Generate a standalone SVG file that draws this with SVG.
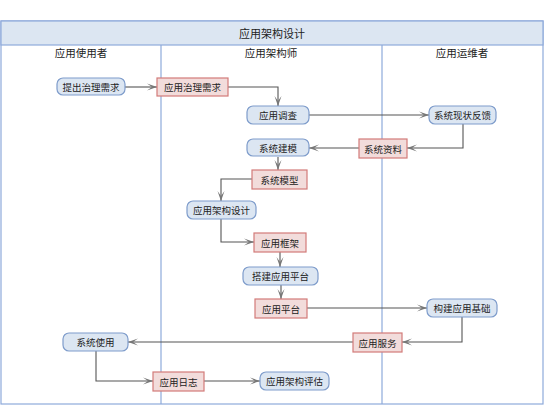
<svg xmlns="http://www.w3.org/2000/svg" width="554" height="416" viewBox="0 0 554 416">
<style>
text{font-family:"Noto Sans CJK SC","Noto Sans",sans-serif;fill:#222;text-anchor:middle;dominant-baseline:central}
.t{font-size:11px}
.h{font-size:10.5px}
.n{font-size:9.5px}
.b{fill:#dce6f2;stroke:#7e9ccb;stroke-width:1.2}
.p{fill:#f2dcdb;stroke:#d27b79;stroke-width:1.2}
.lane{fill:none;stroke:#8eaadb;stroke-width:1.2}
.c{fill:none;stroke:#555;stroke-width:1.1}
</style>
<defs>
<marker id="ah" viewBox="0 0 10 8" refX="10" refY="4" markerWidth="10" markerHeight="8" markerUnits="userSpaceOnUse" orient="auto">
<path d="M0,0.5 L10,4 L0,7.5 L5,4 z" fill="#777"/>
</marker>
</defs>
<g id="pool">
<rect x="1" y="21" width="542" height="383" class="lane" fill="#fff"/>
<rect x="1" y="21" width="542" height="24" fill="#dce6f2" stroke="#8eaadb" stroke-width="1.2"/>
<line x1="161" y1="45" x2="161" y2="404" class="lane"/>
<line x1="382" y1="45" x2="382" y2="404" class="lane"/>
<text class="t" x="272" y="33">应用架构设计</text>
<text class="h" x="81" y="52">应用使用者</text>
<text class="h" x="271" y="52">应用架构师</text>
<text class="h" x="462" y="52">应用运维者</text>
</g>
<g id="connectors">
<path class="c" d="M125,87 H157" marker-end="url(#ah)"/>
<path class="c" d="M228,87 H278 V106" marker-end="url(#ah)"/>
<path class="c" d="M309,115 H429" marker-end="url(#ah)"/>
<path class="c" d="M463,124 V148 H407" marker-end="url(#ah)"/>
<path class="c" d="M359,148 H309" marker-end="url(#ah)"/>
<path class="c" d="M278,157 V170" marker-end="url(#ah)"/>
<path class="c" d="M252,179 H221 V201" marker-end="url(#ah)"/>
<path class="c" d="M221,219 V242 H254" marker-end="url(#ah)"/>
<path class="c" d="M280,252 V267" marker-end="url(#ah)"/>
<path class="c" d="M281,285 V299" marker-end="url(#ah)"/>
<path class="c" d="M307,308 H427" marker-end="url(#ah)"/>
<path class="c" d="M462,317 V342 H402" marker-end="url(#ah)"/>
<path class="c" d="M353,342 H128" marker-end="url(#ah)"/>
<path class="c" d="M96,351 V381 H153" marker-end="url(#ah)"/>
<path class="c" d="M204,381 H260" marker-end="url(#ah)"/>
</g>
<g id="n1"><rect class="b" x="57" y="78" width="68" height="17" rx="6"/><text class="n" x="91" y="86.5">提出治理需求</text></g>
<g id="n2"><rect class="p" x="157" y="78" width="71" height="18"/><text class="n" x="192.5" y="87">应用治理需求</text></g>
<g id="n3"><rect class="b" x="247" y="106" width="62" height="18" rx="6"/><text class="n" x="278" y="115">应用调查</text></g>
<g id="n4"><rect class="b" x="429" y="106" width="67" height="18" rx="6"/><text class="n" x="462.5" y="115">系统现状反馈</text></g>
<g id="n5"><rect class="p" x="359" y="139" width="48" height="19"/><text class="n" x="383" y="148.5">系统资料</text></g>
<g id="n6"><rect class="b" x="247" y="139" width="62" height="17" rx="6"/><text class="n" x="278" y="147.5">系统建模</text></g>
<g id="n7"><rect class="p" x="252" y="170" width="55" height="19"/><text class="n" x="279.5" y="179.5">系统模型</text></g>
<g id="n8"><rect class="b" x="187" y="201" width="69" height="18" rx="6"/><text class="n" x="221.5" y="210">应用架构设计</text></g>
<g id="n9"><rect class="p" x="254" y="233" width="52" height="19"/><text class="n" x="280" y="242.5">应用框架</text></g>
<g id="n10"><rect class="b" x="243" y="267" width="75" height="18" rx="6"/><text class="n" x="280.5" y="276">搭建应用平台</text></g>
<g id="n11"><rect class="p" x="255" y="299" width="52" height="19"/><text class="n" x="281" y="308.5">应用平台</text></g>
<g id="n12"><rect class="b" x="427" y="299" width="70" height="18" rx="6"/><text class="n" x="462" y="308">构建应用基础</text></g>
<g id="n13"><rect class="p" x="353" y="333" width="49" height="19"/><text class="n" x="377.5" y="342.5">应用服务</text></g>
<g id="n14"><rect class="b" x="63" y="333" width="65" height="18" rx="6"/><text class="n" x="95.5" y="342">系统使用</text></g>
<g id="n15"><rect class="p" x="153" y="372" width="51" height="19"/><text class="n" x="178.5" y="381.5">应用日志</text></g>
<g id="n16"><rect class="b" x="260" y="372" width="69" height="18" rx="6"/><text class="n" x="294.5" y="381">应用架构评估</text></g>
</svg>
